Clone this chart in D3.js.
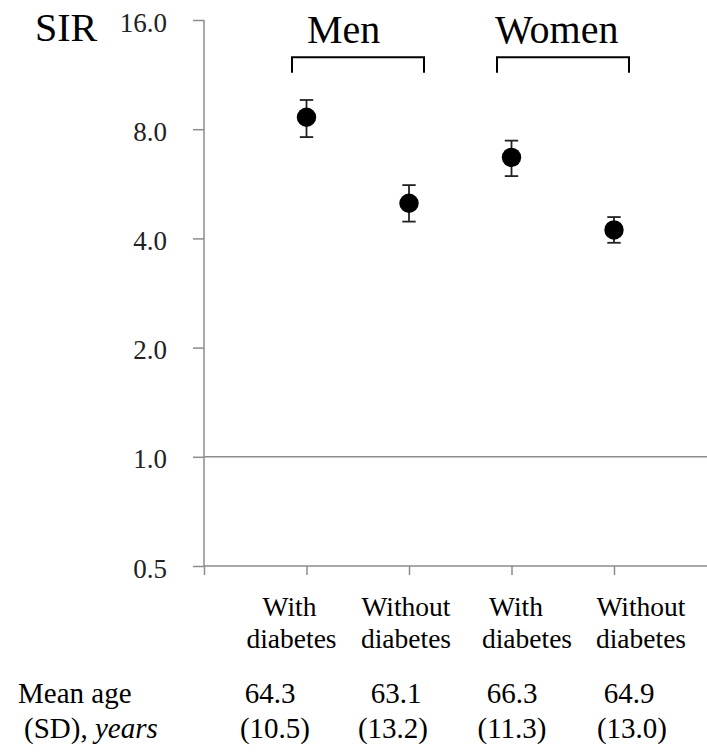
<!DOCTYPE html>
<html>
<head>
<meta charset="utf-8">
<script src="https://cdn.jsdelivr.net/npm/d3@7"></script>
</head>
<body style="margin:0">
<svg id="sirfig" width="707" height="752"></svg>
<script>
// ---- data ----
const groups = ["Men", "Women"];
const categoriesLine1 = ["With", "Without", "With", "Without"];
const categoriesLine2 = ["diabetes", "diabetes", "diabetes", "diabetes"];
const categoryGroup = ["Men", "Men", "Women", "Women"];
const sir = [8.63, 5.00, 6.69, 4.22];
const ciLow = [7.61, 4.45, 5.94, 3.89];
const ciHigh = [9.63, 5.61, 7.44, 4.58];
const meanAge = ["64.3", "63.1", "66.3", "64.9"];
const sdAge = ["(10.5)", "(13.2)", "(11.3)", "(13.0)"];
const yTicks = [0.5, 1, 2, 4, 8, 16];

// ---- layout ----
const svg = d3.select("#sirfig");
const x = d3.scaleLinear().domain([0, 5]).range([204, 716.5]);
const y = d3.scaleLog().base(2).domain([0.5, 16]).range([566, 20]);
const axisColor = "#8c8c8c";
const line1Shift = [-17, -3, 4.5, 27];
const line2Shift = [-15, -3, 15.5, 27];
const meanShift = [-36.5, -13, 0.5, 15];
const sdShift = [-31.5, -16, 0.5, 18];

function txt(sel, size) {
  return sel.style("font-family", '"Times New Roman"', "important")
    .attr("font-size", size).attr("fill", "#000");
}

// reference line at SIR = 1
svg.append("line")
  .attr("x1", x(0)).attr("x2", 707)
  .attr("y1", y(1)).attr("y2", y(1))
  .attr("stroke", axisColor).attr("stroke-width", 1.5);

// y axis
const yAxis = svg.append("g")
  .attr("transform", `translate(${x(0)},0)`)
  .call(d3.axisLeft(y).tickValues(yTicks).tickFormat(d3.format(".1f")).tickSize(11).tickPadding(26));
yAxis.attr("font-family", null).attr("font-size", 27);
yAxis.select(".domain").attr("stroke", axisColor).attr("stroke-width", 1.5)
  .attr("d", `M0,${y(16)}V${y(0.5)}`);
yAxis.selectAll(".tick line").attr("stroke", axisColor).attr("stroke-width", 1.5);
txt(yAxis.selectAll(".tick text"), 27).attr("fill", "#222").attr("dy", "0.41em");

// x axis
const xAxis = svg.append("g")
  .attr("transform", `translate(0,${y(0.5)})`)
  .call(d3.axisBottom(x).tickValues([0, 1, 2, 3, 4, 5]).tickFormat("").tickSize(9));
xAxis.attr("font-family", null);
xAxis.select(".domain").attr("stroke", axisColor).attr("stroke-width", 1.5)
  .attr("d", `M${x(0)},0H707`);
xAxis.selectAll(".tick line").attr("stroke", axisColor).attr("stroke-width", 1.5);

// SIR label
txt(svg.append("text").attr("x", 35).attr("y", 41), 40).text("SIR");

// group brackets and labels
groups.forEach(g => {
  const idx = categoryGroup.map((c, i) => c === g ? i : -1).filter(i => i >= 0);
  const x0 = x(idx[0] + 1) - 14.5, x1 = x(idx[idx.length - 1] + 1) + 15;
  svg.append("path")
    .attr("d", `M${x0},72.7V57.3H${x1}V72.7`)
    .attr("fill", "none").attr("stroke", "#000").attr("stroke-width", 2);
  txt(svg.append("text")
    .attr("x", g === "Men" ? x(idx[0] + 1) + 0.5 : x(idx[0] + 1) - 16.5)
    .attr("y", 42.7), 40).text(g);
});

// error bars
const eb = svg.append("g").selectAll("g").data(sir).join("g");
eb.append("line")
  .attr("x1", (d, i) => x(i + 1)).attr("x2", (d, i) => x(i + 1))
  .attr("y1", (d, i) => y(ciHigh[i])).attr("y2", (d, i) => y(ciLow[i]))
  .attr("stroke", "#222").attr("stroke-width", 1.8);
eb.append("line")
  .attr("x1", (d, i) => x(i + 1) - 6.7).attr("x2", (d, i) => x(i + 1) + 6.7)
  .attr("y1", (d, i) => y(ciHigh[i])).attr("y2", (d, i) => y(ciHigh[i]))
  .attr("stroke", "#222").attr("stroke-width", 1.8);
eb.append("line")
  .attr("x1", (d, i) => x(i + 1) - 6.7).attr("x2", (d, i) => x(i + 1) + 6.7)
  .attr("y1", (d, i) => y(ciLow[i])).attr("y2", (d, i) => y(ciLow[i]))
  .attr("stroke", "#222").attr("stroke-width", 1.8);
eb.append("circle")
  .attr("cx", (d, i) => x(i + 1)).attr("cy", d => y(d))
  .attr("r", 9.7).attr("fill", "#000");

// category labels
txt(svg.append("g").selectAll("text").data(categoriesLine1).join("text")
  .attr("x", (d, i) => x(i + 1) + line1Shift[i]).attr("y", 615.7)
  .attr("text-anchor", "middle"), 27.5).text(d => d);
txt(svg.append("g").selectAll("text").data(categoriesLine2).join("text")
  .attr("x", (d, i) => x(i + 1) + line2Shift[i]).attr("y", 648.3)
  .attr("text-anchor", "middle"), 27.5).text(d => d);

// mean age rows
txt(svg.append("text").attr("x", 18).attr("y", 703.3), 29).text("Mean age");
const sdLabel = txt(svg.append("text").attr("x", 24).attr("y", 738.3), 29);
sdLabel.append("tspan").text("(SD), ");
sdLabel.append("tspan").attr("font-style", "italic").text("years");

txt(svg.append("g").selectAll("text").data(meanAge).join("text")
  .attr("x", (d, i) => x(i + 1) + meanShift[i]).attr("y", 703.3)
  .attr("text-anchor", "middle"), 29).text(d => d);
txt(svg.append("g").selectAll("text").data(sdAge).join("text")
  .attr("x", (d, i) => x(i + 1) + sdShift[i]).attr("y", 738.3)
  .attr("text-anchor", "middle"), 29).text(d => d);
</script>
</body>
</html>
